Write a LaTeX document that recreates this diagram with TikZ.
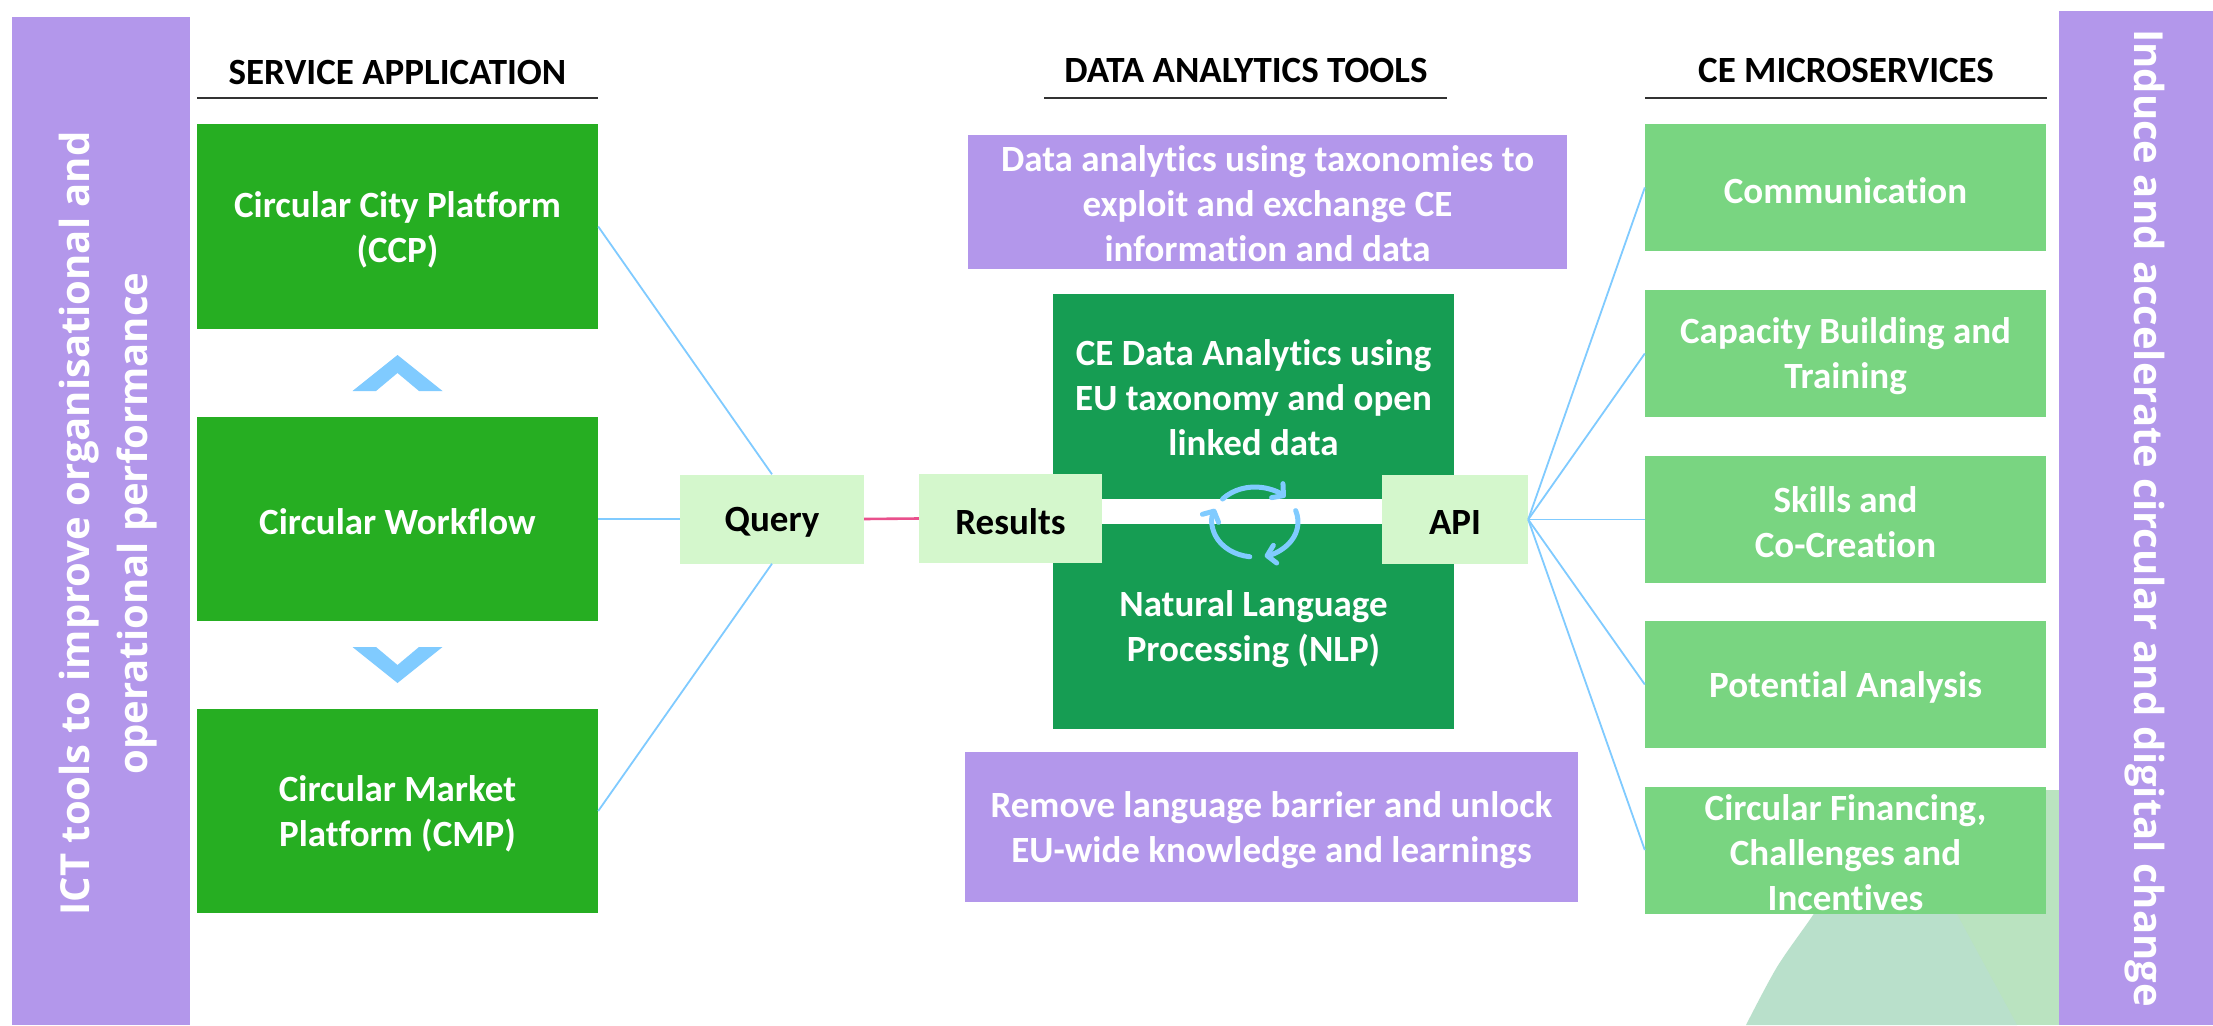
\documentclass[tikz,border=0pt]{standalone}
\usepackage{fontspec}
\setmainfont{Carlito}[Ligatures={NoCommon}]
\newfontfamily\osans{Open Sans}
\usetikzlibrary{arrows.meta}
\definecolor{purp}{RGB}{179,151,235}
\definecolor{sgreen}{RGB}{38,174,34}
\definecolor{dgreen}{RGB}{22,157,83}
\definecolor{mgreen}{RGB}{121,213,129}
\definecolor{pgreen}{RGB}{212,247,204}
\definecolor{lblue}{RGB}{128,203,255}
\definecolor{pinkl}{RGB}{233,80,140}
\definecolor{tealbg}{RGB}{185,224,203}
\definecolor{greenbg}{RGB}{186,227,192}
\definecolor{rulec}{RGB}{50,50,50}
\begin{document}
\begin{tikzpicture}[x=1pt,y=-1pt,
  txt/.style={font=\fontsize{37}{45}\selectfont\bfseries, align=center, inner sep=0pt},
  lbl/.style={txt, yshift=-3pt},
  hdr/.style={txt, text=black},
  appbox/.style={fill=sgreen, minimum width=401pt, minimum height=205pt, inner sep=0pt},
  msbox/.style={fill=mgreen, minimum width=401pt, minimum height=127pt, inner sep=0pt},
  pbox/.style={txt, fill=pgreen, text=black, minimum height=89pt},
  purpbox/.style={fill=purp, inner sep=0pt},
  wtxt/.style={lbl, text=white},
  bartxt/.style={font=\osans\fontsize{40}{58}\selectfont\bfseries, text=white, align=center, inner sep=0pt},
  conn/.style={draw=lblue, line width=1.8pt},
  rulel/.style={draw=rulec, line width=2pt},
  icon/.style={draw=lblue, line width=5pt, line cap=round, -{Straight Barb[length=8pt,width=18pt,round]}}
]
\useasboundingbox (0,0) rectangle (2213,1025);
\fill[white] (0,0) rectangle (2213,1025);

% decorative background
\fill[greenbg] (1892,790) rectangle (2059,1025);
\fill[tealbg] (1895,800) -- plot[smooth] coordinates {(1840,872) (1813,915) (1777,967) (1746,1025)} -- (2017,1025) -- cycle;

% side bars
\node[purpbox, minimum width=178pt, minimum height=1008pt] (leftbar) at (101,521) {};
\node[bartxt, rotate=90] (lefttxt) at (108,523.5) {ICT tools to improve organisational and\\operational performance};
\node[purpbox, minimum width=154pt, minimum height=1014pt] (rightbar) at (2136,518) {};
\node[bartxt, rotate=-90] (righttxt) at (2145,518) {Induce and accelerate circular and digital change};

% headers
\node[hdr] (h1) at (397.5,72) {SERVICE APPLICATION};
\node[hdr] (h2) at (1246,70) {DATA ANALYTICS TOOLS};
\node[hdr] (h3) at (1846,70) {CE MICROSERVICES};
\draw[rulel] (197,97.5) -- (598,97.5);
\draw[rulel] (1044,97.5) -- (1447,97.5);
\draw[rulel] (1645,97.5) -- (2047,97.5);

% service application
\node[appbox] (ccp) at (397.5,226.5) {};
\node[wtxt] at (ccp.center) {Circular City Platform\\(CCP)};
\node[appbox, minimum height=204pt] (wf) at (397.5,519) {};
\node[wtxt] at (wf.center) {Circular Workflow};
\node[appbox, minimum height=204pt] (cmp) at (397.5,811) {};
\node[wtxt] at (cmp.center) {Circular Market\\Platform (CMP)};
\fill[lblue] (352.5,391) -- (397.5,355) -- (442.5,391) -- (419,391) -- (397.5,373) -- (376,391) -- cycle;
\fill[lblue] (352.5,647) -- (397.5,683) -- (442.5,647) -- (419,647) -- (397.5,665) -- (376,647) -- cycle;

% data analytics
\node[purpbox, minimum width=599pt, minimum height=134pt] (ptop) at (1267.5,202) {};
\node[txt, text=white, yshift=-1.5pt] at (ptop.center) {Data analytics using taxonomies to\\exploit and exchange CE\\information and data};
\node[purpbox, minimum width=613pt, minimum height=150pt] (pbot) at (1271.5,827) {};
\node[wtxt] at (pbot.center) {Remove language barrier and unlock\\EU-wide knowledge and learnings};
\node[fill=dgreen, minimum width=401pt, minimum height=435pt, inner sep=0pt] (dg) at (1253.5,511.5) {};
\fill[white] (1053,499) rectangle (1454,524);
\node[txt, text=white] (cetxt) at (1253.5,398) {CE Data Analytics using\\EU taxonomy and open\\linked data};
\node[txt, text=white] (nlptxt) at (1253.5,629.5) {Natural Language\\Processing (NLP)};
\coordinate (cyc) at (1255,522);
\draw[icon] (cyc) ++(-139:43 and 35) arc[start angle=-139, end angle=-45, x radius=43, y radius=35];
\draw[icon] (cyc) ++(-19:43 and 35) arc[start angle=-19, end angle=77, x radius=43, y radius=35];
\draw[icon] (cyc) ++(97:43 and 35) arc[start angle=97, end angle=202, x radius=43, y radius=35];

\node[pbox, minimum width=184pt] (query) at (772,519) {};
\node[lbl] at (query.center) {Query};
\node[pbox, minimum width=183pt] (results) at (1010.5,518.5) {};
\node[lbl] at (results.center) {Results};
\node[pbox, minimum width=146pt] (api) at (1455,519.5) {};
\node[lbl] at (api.center) {API};

% microservices
\node[msbox] (comm) at (1845.5,187.5) {};
\node[wtxt] at (comm.center) {Communication};
\node[msbox] (cap) at (1845.5,353.5) {};
\node[wtxt] at (cap.center) {Capacity Building and\\Training};
\node[msbox] (skills) at (1845.5,519.5) {};
\node[wtxt] at (skills.center) {Skills and\\Co-Creation};
\node[msbox] (pot) at (1845.5,684.5) {};
\node[wtxt] at (pot.center) {Potential Analysis};
\node[msbox] (fin) at (1845.5,850) {};
\node[wtxt] at (fin.center) {Circular Financing,\\Challenges and\\Incentives};

% connectors
\draw[conn] (ccp.east) -- (query.north);
\draw[conn] (wf.east) -- (query.west);
\draw[conn] (cmp.east) -- (query.south);
\draw[draw=pinkl, line width=2.6pt] (query.east) -- (results.west);
\foreach \t in {comm,cap,skills,pot,fin}{
  \draw[conn] (api.east) -- (\t.west);
}
\end{tikzpicture}
\end{document}
